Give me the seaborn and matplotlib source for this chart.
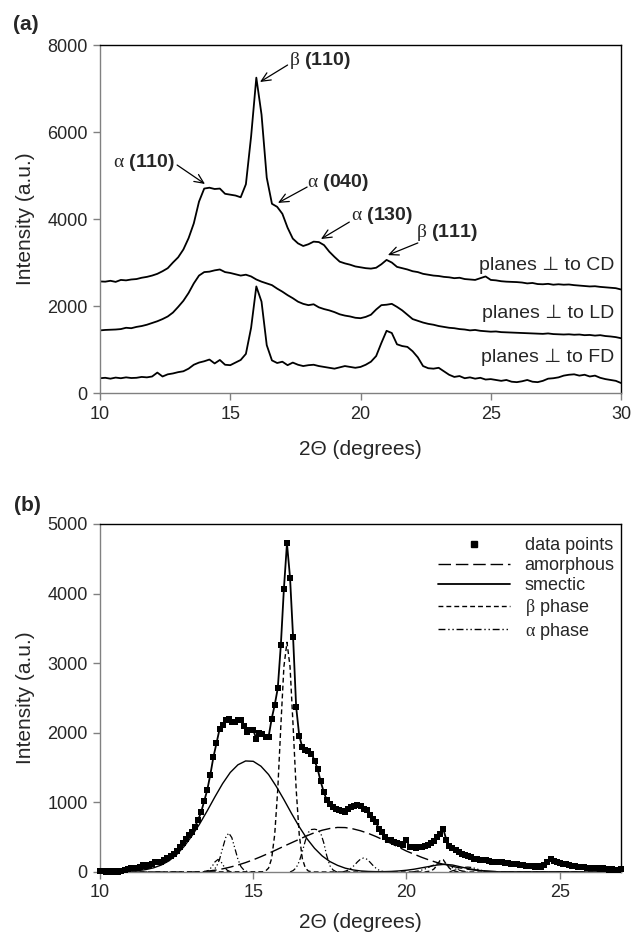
import numpy as np
import pandas as pd
import matplotlib
matplotlib.use("Agg")
import matplotlib.pyplot as plt
import seaborn as sns
from matplotlib.lines import Line2D

sns.set_style("ticks")
plt.rcParams['font.family'] = ['Liberation Sans', 'DejaVu Sans']
plt.rcParams['mathtext.fontset'] = 'custom'
plt.rcParams['mathtext.rm'] = 'Liberation Serif'
plt.rcParams['mathtext.it'] = 'Liberation Serif:italic'
plt.rcParams['mathtext.bf'] = 'Liberation Sans:bold'

# ---------------- panel (a) data ----------------
theta_a = np.round(np.arange(10.0, 30.001, 0.2), 1)
cd = [2565, 2560, 2580, 2555, 2600, 2590, 2610, 2620, 2650, 2670,
      2700, 2740, 2800, 2870, 3000, 3120, 3300, 3560, 3900, 4400,
      4700, 4720, 4690, 4700, 4580, 4560, 4540, 4500, 4800, 5900,
      7250, 6400, 4950, 4350, 4280, 4120, 3800, 3550, 3440, 3380,
      3420, 3480, 3470, 3400, 3250, 3130, 3020, 2980, 2950, 2910,
      2890, 2870, 2860, 2880, 2960, 3060, 3000, 2900, 2870, 2840,
      2800, 2780, 2740, 2720, 2700, 2690, 2670, 2660, 2640, 2650,
      2620, 2610, 2600, 2640, 2680, 2600, 2590, 2570, 2560, 2555,
      2550, 2540, 2520, 2530, 2505, 2500, 2510, 2490, 2500, 2490,
      2495, 2480, 2470, 2460, 2450, 2455, 2440, 2430, 2420, 2410,
      2380]
ld = [1440, 1450, 1455, 1460, 1470, 1500, 1490, 1520, 1540, 1570,
      1610, 1650, 1700, 1760, 1850, 1980, 2120, 2300, 2520, 2700,
      2780, 2790, 2820, 2840, 2780, 2760, 2730, 2700, 2720, 2680,
      2610, 2560, 2520, 2480, 2400, 2330, 2250, 2180, 2100, 2050,
      2020, 2040, 1970, 1930, 1900, 1860, 1810, 1780, 1760, 1730,
      1720, 1750, 1800, 1920, 2020, 2030, 2050, 1980, 1900, 1800,
      1700, 1660, 1620, 1590, 1570, 1540, 1520, 1500, 1490, 1470,
      1460, 1440, 1450, 1430, 1420, 1410, 1415, 1400, 1395, 1390,
      1385, 1380, 1375, 1370, 1365, 1360, 1370, 1355, 1350, 1345,
      1350, 1340, 1345, 1330, 1335, 1320, 1330, 1310, 1300, 1285,
      1260]
fd = [340, 350, 330, 355, 340, 360, 345, 350, 370, 360,
      380, 470, 380, 430, 450, 480, 500, 560, 650, 700,
      730, 770, 680, 760, 650, 640, 700, 760, 900, 1500,
      2450, 2100, 1100, 750, 690, 720, 640, 700, 650, 620,
      640, 650, 620, 600, 580, 560, 590, 620, 600, 580,
      600, 650, 720, 850, 1150, 1430, 1380, 1120, 1080, 1060,
      960, 820, 620, 570, 560, 580, 500, 420, 370, 390,
      340, 360, 330, 350, 310, 320, 300, 280, 300, 260,
      250, 270, 300, 260, 250, 280, 330, 340, 360, 400,
      420, 430, 400, 420, 380, 400, 350, 320, 300, 280,
      230]
curve_labels = ["planes \u22a5 to CD", "planes \u22a5 to LD", "planes \u22a5 to FD"]
peak_labels = [r'$\mathrm{\alpha}$ $\mathbf{(110)}$', r'$\mathrm{\beta}$ $\mathbf{(110)}$',
               r'$\mathrm{\alpha}$ $\mathbf{(040)}$', r'$\mathrm{\alpha}$ $\mathbf{(130)}$',
               r'$\mathrm{\beta}$ $\mathbf{(111)}$']

# ---------------- panel (b) data ----------------
theta_b = np.round(np.arange(10.0, 27.001, 0.1), 1)
data_pts = [20, 10, 0, 15, 5, 10, 0, 20, 35, 45,
            60, 50, 60, 75, 95, 85, 100, 120, 140, 145,
            150, 175, 200, 230, 263, 300, 360, 420, 480, 526,
            580, 650, 750, 860, 1020, 1180, 1400, 1650, 1850, 2050,
            2105, 2180, 2200, 2150, 2153, 2190, 2177, 2100, 2010, 2043,
            2040, 1910, 1990, 1985, 1940, 1940, 2200, 2400, 2640, 3260,
            4070, 4720, 4230, 3370, 2370, 1960, 1790, 1750, 1740, 1700,
            1600, 1480, 1300, 1150, 1030, 980, 930, 900, 885, 870,
            860, 900, 935, 955, 960, 955, 910, 885, 815, 760,
            720, 620, 575, 500, 455, 455, 430, 410, 400, 390,
            455, 360, 360, 350, 360, 355, 370, 390, 410, 450,
            500, 550, 620, 460, 380, 340, 310, 290, 265, 245,
            230, 210, 190, 180, 170, 165, 170, 160, 150, 145,
            145, 140, 130, 125, 120, 115, 110, 100, 95, 90,
            85, 80, 75, 80, 70, 100, 140, 190, 160, 140,
            130, 120, 110, 100, 90, 80, 75, 70, 65, 60,
            60, 55, 50, 45, 50, 40, 35, 40, 30, 35,
            45]

smectic_x = [10.0] + list(np.round(np.arange(11.0, 23.001, 0.25), 2)) + [27.0]
smectic_y = [0, 10, 20, 35, 60, 100, 160, 250, 370, 520, 690, 880, 1080, 1270, 1430,
             1540, 1595, 1590, 1520, 1400, 1230, 1040, 840, 650, 480, 340, 230, 150, 95, 55,
             30, 15, 8, 5, 5, 8, 15, 25, 40, 60, 80, 100, 110, 100, 75, 50, 30, 15, 8, 3, 0]

amorph_x = [10.0] + list(np.round(np.arange(13.0, 23.501, 0.25), 2)) + [27.0]
amorph_y = [0, 0, 5, 12, 25, 45, 70, 100, 135, 175, 220, 268, 318, 370, 420, 470,
            520, 565, 600, 625, 640, 638, 620, 592, 555, 510, 460, 410, 355, 300, 255,
            210, 170, 135, 105, 80, 58, 40, 26, 16, 9, 4, 1, 0, 0]

beta_x = [10.0, 15.3, 15.4, 15.5, 15.6, 15.7, 15.8, 15.9, 16.0, 16.1, 16.2, 16.3, 16.4,
          16.5, 16.6, 16.7, 16.8, 16.9, 17.0, 20.6, 20.8, 20.9, 21.0, 21.1, 21.2, 21.3,
          21.4, 21.5, 21.7, 27.0]
beta_y = [0, 3, 13, 56, 194, 538, 1190, 2100, 2950, 3300, 2950, 2100, 1190, 538, 194,
          56, 13, 3, 0, 0, 15, 45, 100, 170, 175, 110, 55, 20, 0, 0]

alpha1_x = np.round(np.arange(13.35, 14.351, 0.1), 2)
alpha1_y = [0, 5, 25, 75, 145, 180, 145, 75, 25, 5, 0]
alpha2_x = np.round(np.arange(13.5, 14.901, 0.1), 2)
alpha2_y = [0, 6, 25, 76, 182, 340, 494, 560, 494, 340, 182, 76, 25, 6, 0]
alpha3_x = np.round(np.arange(16.2, 17.801, 0.1), 2)
alpha3_y = [0, 20, 60, 150, 290, 450, 570, 610, 615, 605, 560, 420, 230, 90, 30, 5, 0]
alpha4_x = np.round(np.arange(17.9, 19.301, 0.1), 2)
alpha4_y = [0, 11, 27, 56, 97, 145, 185, 200, 185, 145, 97, 56, 27, 11, 0]
alpha5_x = np.round(np.arange(20.2, 22.001, 0.1), 2)
alpha5_y = [0, 9, 16, 28, 43, 62, 83, 102, 115, 120, 115, 102, 83, 62, 43, 28, 16, 9, 0]
alpha6_x = np.round(np.arange(21.4, 22.601, 0.1), 2)
alpha6_y = [0, 17, 29, 42, 56, 66, 70, 66, 56, 42, 29, 17, 0]

legend_labels = ['data points', 'amorphous', 'smectic',
                 r'$\mathrm{\beta}$ phase', r'$\mathrm{\alpha}$ phase']

# ---------------- figure ----------------
fig = plt.figure(figsize=(6.33, 9.32), dpi=100)
axa = fig.add_axes([0.158, 0.5783, 0.8231, 0.3734])
axb = fig.add_axes([0.158, 0.0644, 0.8231, 0.3734])

LS_AM = (0, (9, 3.5))
LS_BE = (0, (3.5, 2.2))
LS_AL = (0, (5, 2, 1, 2, 1, 2))


def style(ax):
    for s in ['left', 'bottom']:
        ax.spines[s].set_color('#808080')
        ax.spines[s].set_linewidth(1.0)
    for s in ['top', 'right']:
        ax.spines[s].set_color('black')
        ax.spines[s].set_linewidth(1.0)
        ax.spines[s].set_visible(True)
    ax.tick_params(direction='out', length=5, width=1, color='#808080',
                   labelsize=13, pad=4)


# panel (a)
df_a = pd.DataFrame({'theta': theta_a, 'CD': cd, 'LD': ld, 'FD': fd})
for col in ['CD', 'LD', 'FD']:
    sns.lineplot(data=df_a, x='theta', y=col, ax=axa, color='black', lw=1.3,
                 estimator=None)
axa.set_xlim(10, 30)
axa.set_ylim(0, 8000)
axa.set_xticks([10, 15, 20, 25, 30])
axa.set_yticks([0, 2000, 4000, 6000, 8000])
style(axa)
axa.set_xlabel('2\u0398 (degrees)', fontsize=15, labelpad=12.5)
axa.set_ylabel('Intensity (a.u.)', fontsize=15, labelpad=9)

for lab, yy in zip(curve_labels, [2940, 1840, 830]):
    axa.text(29.75, yy, lab, ha='right', va='center', fontsize=14)

text_pos = [(11.69, 5310), (18.45, 7655), (19.12, 4850), (20.83, 4070), (23.32, 3680)]
heads = [(14.03, 4805), (16.14, 7150), (16.83, 4370), (18.48, 3540), (21.05, 3170)]
tails = [(12.96, 5241), (17.2, 7540), (17.95, 4735), (19.57, 3930), (22.2, 3450)]
for lab, tp, hd, tl in zip(peak_labels, text_pos, heads, tails):
    axa.text(tp[0], tp[1], lab, ha='center', va='center', fontsize=14)
    axa.annotate('', xy=hd, xytext=tl,
                 arrowprops=dict(arrowstyle='->,head_length=0.55,head_width=0.25',
                                 lw=0.9, color='black', shrinkA=0, shrinkB=0,
                                 mutation_scale=12))

# panel (b)
sns.lineplot(x=theta_b, y=data_pts, ax=axb, color='black', lw=1.3, estimator=None)
sns.scatterplot(x=theta_b, y=data_pts, ax=axb, color='black', marker='s', s=15,
                edgecolor='black', linewidth=0, zorder=5, clip_on=False)
sns.lineplot(x=amorph_x, y=amorph_y, ax=axb, color='black', lw=1.0, linestyle=LS_AM,
             estimator=None)
sns.lineplot(x=smectic_x, y=smectic_y, ax=axb, color='black', lw=1.0, estimator=None)
sns.lineplot(x=beta_x, y=beta_y, ax=axb, color='black', lw=1.0, linestyle=LS_BE,
             estimator=None)
for ax_, ay_ in [(alpha1_x, alpha1_y), (alpha2_x, alpha2_y), (alpha3_x, alpha3_y),
                 (alpha4_x, alpha4_y), (alpha5_x, alpha5_y), (alpha6_x, alpha6_y)]:
    sns.lineplot(x=ax_, y=ay_, ax=axb, color='black', lw=0.9, linestyle=LS_AL,
                 estimator=None)

axb.set_xlim(10, 27)
axb.set_ylim(0, 5000)
axb.set_xticks([10, 15, 20, 25])
axb.set_yticks([0, 1000, 2000, 3000, 4000, 5000])
style(axb)
axb.set_xlabel('2\u0398 (degrees)', fontsize=15, labelpad=8)
axb.set_ylabel('Intensity (a.u.)', fontsize=15, labelpad=9)

handles = [
    Line2D([], [], marker='s', ls='none', color='black', markersize=3.8),
    Line2D([], [], color='black', lw=1.0, ls=LS_AM),
    Line2D([], [], color='black', lw=1.3, ls='-'),
    Line2D([], [], color='black', lw=1.0, ls=LS_BE),
    Line2D([], [], color='black', lw=1.0, ls=LS_AL),
]
axb.legend(handles=handles, labels=legend_labels, loc='upper right',
           bbox_to_anchor=(1.0, 0.98), frameon=False,
           fontsize=13, handlelength=4.0, handletextpad=0.8, labelspacing=0.16,
           borderaxespad=0.0, borderpad=0.35, numpoints=1)

fig.text(0.041, 0.974, '(a)', fontsize=15, weight='bold', ha='center', va='center')
fig.text(0.044, 0.458, '(b)', fontsize=15, weight='bold', ha='center', va='center')

fig.savefig('out.png', dpi=100)
